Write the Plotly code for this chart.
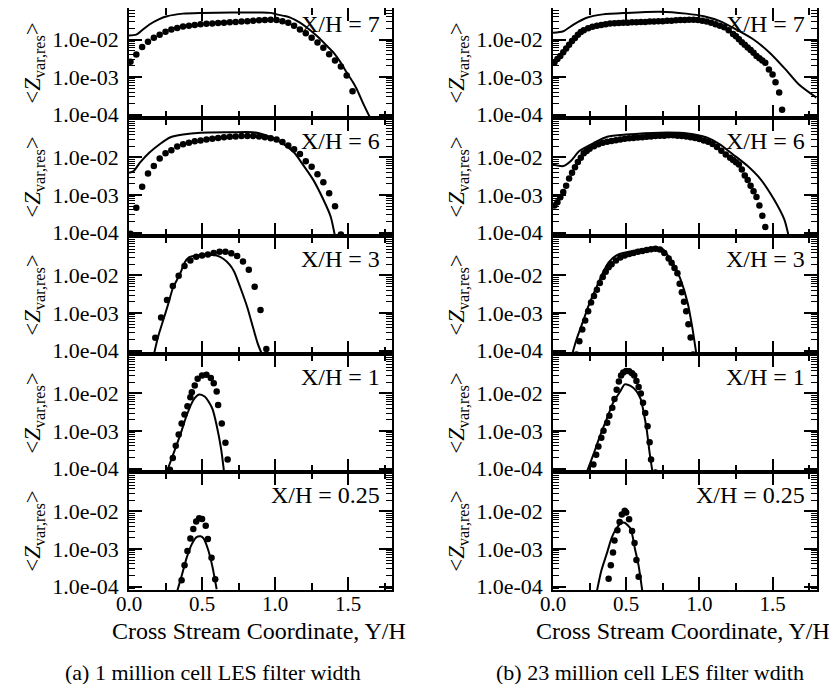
import plotly.graph_objects as go

# The page body keeps an 8 px margin at the top-left; the figure is shifted to compensate
OFF = 8
FW, FH = 837 - OFF, 684 - OFF
FONT = "Liberation Serif"

panel_labels = ["X/H = 7", "X/H = 6", "X/H = 3", "X/H = 1", "X/H = 0.25"]
y_tick_vals = [1e-4, 1e-3, 1e-2]
y_tick_text = ["1.0e-04", "1.0e-03", "1.0e-02"]
x_title = "Cross Stream Coordinate, Y/H"
y_title = "&lt;<i>Z</i><sub>var,res</sub>&gt;"
captions = ["(a) 1 million cell LES filter width", "(b) 23 million cell LES filter wdith"]

# ---------------- left column: 1 million cell ----------------
# X/H = 7
l1_line_x = [0.0, 0.05, 0.10, 0.14, 0.20, 0.26, 0.37, 0.50, 0.70, 0.90, 0.97, 1.01, 1.06, 1.10, 1.17, 1.23,
             1.29, 1.35, 1.40, 1.45, 1.49, 1.53, 1.56, 1.60, 1.65]
l1_line_y = [1.29e-2, 1.35e-2, 1.91e-2, 2.51e-2, 3.39e-2, 4.17e-2, 4.90e-2, 5.13e-2, 5.25e-2, 5.25e-2, 5.13e-2,
             4.68e-2, 4.27e-2, 3.89e-2, 2.82e-2, 1.91e-2, 1.20e-2, 7.08e-3, 4.47e-3, 2.40e-3, 1.32e-3, 7.59e-4,
             4.68e-4, 2.09e-4, 8.3e-5]
l1_dot_x = [0.01, 0.05, 0.09, 0.13, 0.17, 0.21, 0.25, 0.29, 0.33, 0.37, 0.41, 0.45, 0.49, 0.53, 0.57, 0.61,
            0.65, 0.69, 0.73, 0.77, 0.81, 0.85, 0.89, 0.93, 0.97, 1.01, 1.05, 1.09, 1.13, 1.17, 1.21, 1.25,
            1.29, 1.33, 1.37, 1.41, 1.45, 1.49, 1.53]
l1_dot_y = [2.57e-3, 3.98e-3, 6.31e-3, 8.71e-3, 1.12e-2, 1.35e-2, 1.62e-2, 1.86e-2, 2.04e-2, 2.24e-2, 2.34e-2,
            2.45e-2, 2.57e-2, 2.63e-2, 2.69e-2, 2.75e-2, 2.82e-2, 2.88e-2, 2.95e-2, 3.02e-2, 3.09e-2, 3.16e-2,
            3.24e-2, 3.31e-2, 3.39e-2, 3.31e-2, 3.09e-2, 2.82e-2, 2.34e-2, 1.86e-2, 1.48e-2, 1.12e-2, 8.32e-3,
            6.03e-3, 4.07e-3, 2.75e-3, 1.91e-3, 1.10e-3, 4.17e-4]

# X/H = 6
l2_line_x = [0.0, 0.03, 0.075, 0.14, 0.21, 0.28, 0.37, 0.49, 0.70, 0.85, 0.92, 0.99, 1.06, 1.13, 1.19, 1.26,
             1.33, 1.38, 1.41]
l2_line_y = [3.89e-3, 4.27e-3, 7.24e-3, 1.35e-2, 2.24e-2, 3.39e-2, 4.07e-2, 4.57e-2, 4.68e-2, 4.68e-2, 4.07e-2,
             3.16e-2, 2.24e-2, 1.35e-2, 6.46e-3, 2.57e-3, 7.59e-4, 2.69e-4, 7.94e-5]
l2_dot_x = [0.01, 0.05, 0.09, 0.13, 0.17, 0.21, 0.25, 0.29, 0.33, 0.37, 0.41, 0.45, 0.49, 0.53, 0.57, 0.61,
            0.65, 0.69, 0.73, 0.77, 0.81, 0.85, 0.89, 0.93, 0.97, 1.01, 1.05, 1.09, 1.13, 1.17, 1.21, 1.25,
            1.29, 1.33, 1.37, 1.41, 1.45]
l2_dot_y = [9.3e-5, 4.57e-4, 1.66e-3, 3.72e-3, 5.89e-3, 9.33e-3, 1.29e-2, 1.55e-2, 1.95e-2, 2.24e-2, 2.45e-2,
            2.69e-2, 2.82e-2, 3.02e-2, 3.16e-2, 3.31e-2, 3.47e-2, 3.55e-2, 3.63e-2, 3.72e-2, 3.72e-2, 3.72e-2,
            3.63e-2, 3.47e-2, 3.24e-2, 3.02e-2, 2.57e-2, 2.09e-2, 1.66e-2, 1.23e-2, 7.94e-3, 5.62e-3, 3.55e-3,
            2.19e-3, 1.12e-3, 5.01e-4, 8.9e-5]

# X/H = 3
l3_line_x = [0.17, 0.20, 0.235, 0.27, 0.30, 0.35, 0.38, 0.41, 0.46, 0.53, 0.60, 0.65, 0.69, 0.72, 0.76, 0.81,
             0.85, 0.88, 0.91]
l3_line_y = [7.76e-5, 2.40e-4, 6.61e-4, 1.82e-3, 4.57e-3, 1.12e-2, 2.19e-2, 3.02e-2, 3.39e-2, 3.55e-2, 3.39e-2,
             2.69e-2, 1.91e-2, 1.26e-2, 5.01e-3, 1.41e-3, 3.98e-4, 1.58e-4, 7.94e-5]
l3_dot_x = [0.18, 0.22, 0.26, 0.30, 0.34, 0.38, 0.42, 0.46, 0.50, 0.54, 0.58, 0.62, 0.66, 0.70, 0.74, 0.78,
            0.82, 0.86, 0.90, 0.94]
l3_dot_y = [2.19e-4, 7.59e-4, 2.24e-3, 5.25e-3, 9.77e-3, 1.78e-2, 2.51e-2, 3.16e-2, 3.39e-2, 3.63e-2, 3.98e-2,
            4.27e-2, 4.27e-2, 3.89e-2, 3.31e-2, 2.34e-2, 1.41e-2, 5.01e-3, 1.20e-3, 1.10e-4]

# X/H = 1
l4_line_x = [0.26, 0.30, 0.35, 0.395, 0.44, 0.48, 0.52, 0.57, 0.60, 0.63, 0.65]
l4_line_y = [8.51e-5, 2.24e-4, 7.76e-4, 2.63e-3, 6.61e-3, 9.33e-3, 8.13e-3, 3.98e-3, 1.41e-3, 3.39e-4, 8.51e-5]
l4_dot_x = [0.28, 0.30, 0.32, 0.34, 0.36, 0.38, 0.40, 0.42, 0.43, 0.45, 0.47, 0.50, 0.53, 0.56, 0.58, 0.60,
            0.61, 0.635, 0.66, 0.675]
l4_dot_y = [9.33e-5, 1.91e-4, 4.07e-4, 8.13e-4, 1.58e-3, 2.75e-3, 4.57e-3, 7.94e-3, 1.07e-2, 1.62e-2, 2.45e-2,
            3.02e-2, 3.16e-2, 2.57e-2, 1.86e-2, 1.12e-2, 4.90e-3, 1.58e-3, 4.90e-4, 1.74e-4]

# X/H = 0.25
l5_line_x = [0.33, 0.36, 0.395, 0.43, 0.46, 0.49, 0.51, 0.54, 0.57, 0.60]
l5_line_y = [7.59e-5, 1.91e-4, 5.89e-4, 1.35e-3, 2.04e-3, 2.19e-3, 1.91e-3, 1.0e-3, 3.55e-4, 8.51e-5]
l5_dot_x = [0.36, 0.38, 0.40, 0.42, 0.44, 0.46, 0.48, 0.50, 0.525, 0.54, 0.565, 0.59]
l5_dot_y = [1.48e-4, 3.72e-4, 8.91e-4, 1.91e-3, 3.39e-3, 5.37e-3, 6.61e-3, 6.31e-3, 4.17e-3, 1.86e-3, 5.89e-4,
            1.58e-4]

# ---------------- right column: 23 million cell ----------------
# X/H = 7
r1_line_x = [0.0, 0.07, 0.14, 0.23, 0.34, 0.50, 0.73, 0.91, 1.03, 1.14, 1.25, 1.37, 1.48, 1.59, 1.68, 1.80]
r1_line_y = [1.51e-2, 1.66e-2, 2.51e-2, 3.80e-2, 4.68e-2, 5.13e-2, 5.50e-2, 4.90e-2, 4.17e-2, 3.09e-2, 1.86e-2,
             1.0e-2, 4.47e-3, 1.58e-3, 6.31e-4, 2.82e-4]
r1_dot_x = [0.01, 0.03, 0.05, 0.07, 0.09, 0.11, 0.13, 0.15, 0.17, 0.19, 0.21,
            0.24, 0.27, 0.30, 0.33, 0.36, 0.39, 0.42, 0.45, 0.48, 0.51, 0.54, 0.57, 0.60, 0.63, 0.66, 0.69,
            0.72, 0.75, 0.78, 0.81, 0.84, 0.87, 0.90, 0.93, 0.96, 0.99, 1.02, 1.05, 1.08, 1.11, 1.14, 1.17,
            1.20, 1.23,
            1.25, 1.27, 1.29, 1.31, 1.33, 1.35, 1.37, 1.39, 1.41, 1.43,
            1.45, 1.475, 1.50, 1.52, 1.545, 1.565]
r1_dot_y = [2.45e-3, 3.02e-3, 3.63e-3, 4.57e-3, 5.75e-3, 7.24e-3, 9.12e-3, 1.10e-2, 1.35e-2, 1.58e-2, 1.78e-2,
            2.00e-2, 2.19e-2, 2.34e-2, 2.45e-2, 2.57e-2, 2.69e-2, 2.72e-2, 2.75e-2, 2.82e-2, 2.82e-2, 2.88e-2,
            2.88e-2, 2.95e-2, 2.95e-2, 3.02e-2, 3.02e-2, 3.09e-2, 3.09e-2, 3.16e-2, 3.16e-2, 3.24e-2, 3.31e-2,
            3.31e-2, 3.39e-2, 3.39e-2, 3.31e-2, 3.16e-2, 3.02e-2, 2.82e-2, 2.57e-2, 2.34e-2, 2.14e-2, 1.78e-2,
            1.41e-2,
            1.23e-2, 1.02e-2, 8.51e-3, 7.24e-3, 6.17e-3, 5.25e-3, 4.47e-3, 3.63e-3, 3.16e-3, 2.75e-3,
            2.40e-3, 1.58e-3, 1.17e-3, 7.24e-4, 3.89e-4, 1.35e-4]

# X/H = 6
r2_line_x = [0.0, 0.07, 0.12, 0.18, 0.28, 0.37, 0.50, 0.73, 0.92, 1.05, 1.14, 1.23, 1.33, 1.42, 1.51, 1.58, 1.61]
r2_line_y = [6.46e-3, 5.89e-3, 7.94e-3, 1.48e-2, 2.45e-2, 3.55e-2, 4.07e-2, 4.57e-2, 4.37e-2, 3.39e-2, 2.24e-2,
             1.20e-2, 5.89e-3, 2.57e-3, 7.59e-4, 2.24e-4, 7.94e-5]
r2_dot_x = [0.01, 0.03, 0.05, 0.07, 0.09, 0.11, 0.13, 0.15, 0.17, 0.19, 0.21, 0.23, 0.25,
            0.28, 0.31, 0.34, 0.37, 0.40, 0.43, 0.46, 0.49, 0.52, 0.55, 0.58, 0.61, 0.64, 0.67, 0.70, 0.73,
            0.76, 0.79, 0.82, 0.85, 0.88, 0.91, 0.94, 0.97, 1.00, 1.03, 1.06, 1.09, 1.12, 1.15, 1.18, 1.21,
            1.23, 1.25, 1.27, 1.29, 1.31, 1.33, 1.35, 1.37, 1.39, 1.41, 1.43, 1.45]
r2_dot_y = [5.25e-4, 6.46e-4, 8.71e-4, 1.20e-3, 1.78e-3, 2.75e-3, 3.89e-3, 5.50e-3, 7.59e-3, 9.77e-3, 1.29e-2,
            1.48e-2, 1.70e-2,
            2.00e-2, 2.24e-2, 2.45e-2, 2.63e-2, 2.75e-2, 2.88e-2, 3.02e-2, 3.16e-2, 3.24e-2, 3.31e-2, 3.39e-2,
            3.47e-2, 3.55e-2, 3.63e-2, 3.72e-2, 3.80e-2, 3.80e-2, 3.89e-2, 3.89e-2, 3.80e-2, 3.72e-2, 3.63e-2,
            3.47e-2, 3.31e-2, 3.09e-2, 2.82e-2, 2.63e-2, 2.29e-2, 1.91e-2, 1.51e-2, 1.20e-2, 9.77e-3,
            8.51e-3, 7.41e-3, 6.46e-3, 4.79e-3, 3.31e-3, 2.51e-3, 1.78e-3, 1.26e-3, 8.91e-4, 5.25e-4, 2.82e-4,
            1.41e-4]

# X/H = 3
r3_line_x = [0.13, 0.16, 0.21, 0.25, 0.30, 0.34, 0.38, 0.44, 0.57, 0.69, 0.75, 0.79, 0.83, 0.87, 0.92, 0.95, 0.98]
r3_line_y = [7.76e-5, 1.95e-4, 6.76e-4, 1.86e-3, 5.13e-3, 1.17e-2, 2.24e-2, 3.55e-2, 4.68e-2, 5.50e-2, 5.01e-2,
             3.16e-2, 1.78e-2, 8.13e-3, 1.86e-3, 4.47e-4, 7.76e-5]
r3_dot_x = [0.16, 0.18, 0.20, 0.22, 0.24, 0.26, 0.28, 0.30, 0.32, 0.34, 0.36, 0.38, 0.40, 0.43, 0.46, 0.49,
            0.52, 0.55, 0.58, 0.61, 0.64, 0.67, 0.70, 0.73, 0.76, 0.79, 0.81, 0.83, 0.85, 0.865, 0.88, 0.895,
            0.91, 0.925, 0.94, 0.957]
r3_dot_y = [7.94e-5, 1.78e-4, 3.63e-4, 6.31e-4, 1.12e-3, 1.91e-3, 2.82e-3, 4.17e-3, 6.31e-3, 9.12e-3, 1.26e-2,
            1.66e-2, 2.00e-2, 2.51e-2, 3.02e-2, 3.39e-2, 3.72e-2, 3.98e-2, 4.27e-2, 4.47e-2, 4.79e-2, 5.01e-2,
            5.13e-2, 4.90e-2, 3.98e-2, 2.82e-2, 2.19e-2, 1.58e-2, 1.15e-2, 6.03e-3, 3.55e-3, 2.00e-3, 1.12e-3,
            5.01e-4, 2.24e-4, 7.94e-5]

# X/H = 1
r4_line_x = [0.23, 0.28, 0.32, 0.37, 0.41, 0.46, 0.49, 0.53, 0.57, 0.60, 0.62, 0.64, 0.66, 0.68]
r4_line_y = [7.94e-5, 2.63e-4, 7.24e-4, 2.24e-3, 5.62e-3, 1.15e-2, 1.74e-2, 1.58e-2, 1.15e-2, 6.92e-3, 3.02e-3,
             1.10e-3, 2.63e-4, 7.94e-5]
r4_dot_x = [0.276, 0.295, 0.31, 0.33, 0.345, 0.37, 0.385, 0.405, 0.42, 0.435, 0.45, 0.465, 0.48, 0.50, 0.52,
            0.54, 0.555, 0.57, 0.585, 0.60, 0.615, 0.63, 0.646, 0.66, 0.67, 0.70]
r4_dot_y = [1.29e-4, 2.34e-4, 3.89e-4, 6.61e-4, 1.02e-3, 1.66e-3, 2.57e-3, 4.17e-3, 7.08e-3, 1.26e-2, 2.09e-2,
            3.02e-2, 3.63e-2, 3.98e-2, 3.89e-2, 3.47e-2, 3.02e-2, 2.14e-2, 1.48e-2, 1.0e-2, 5.62e-3, 3.02e-3,
            1.35e-3, 5.01e-4, 1.74e-4, 7.94e-5]

# X/H = 0.25
r5_line_x = [0.30, 0.33, 0.37, 0.40, 0.435, 0.47, 0.49, 0.53, 0.56, 0.585, 0.61]
r5_line_y = [7.59e-5, 2.63e-4, 8.13e-4, 1.95e-3, 3.63e-3, 5.01e-3, 5.01e-3, 3.47e-3, 1.0e-3, 3.55e-4, 7.59e-5]
r5_dot_x = [0.38, 0.395, 0.41, 0.42, 0.44, 0.455, 0.47, 0.49, 0.50, 0.52, 0.54, 0.557, 0.57, 0.585]
r5_dot_y = [1.62e-4, 3.72e-4, 8.13e-4, 1.70e-3, 3.16e-3, 5.25e-3, 8.32e-3, 1.05e-2, 9.33e-3, 6.17e-3, 3.02e-3,
            1.45e-3, 5.13e-4, 1.82e-4]

panels = {
    (1, 1): (l1_line_x, l1_line_y, l1_dot_x, l1_dot_y),
    (2, 1): (l2_line_x, l2_line_y, l2_dot_x, l2_dot_y),
    (3, 1): (l3_line_x, l3_line_y, l3_dot_x, l3_dot_y),
    (4, 1): (l4_line_x, l4_line_y, l4_dot_x, l4_dot_y),
    (5, 1): (l5_line_x, l5_line_y, l5_dot_x, l5_dot_y),
    (1, 2): (r1_line_x, r1_line_y, r1_dot_x, r1_dot_y),
    (2, 2): (r2_line_x, r2_line_y, r2_dot_x, r2_dot_y),
    (3, 2): (r3_line_x, r3_line_y, r3_dot_x, r3_dot_y),
    (4, 2): (r4_line_x, r4_line_y, r4_dot_x, r4_dot_y),
    (5, 2): (r5_line_x, r5_line_y, r5_dot_x, r5_dot_y),
}

# panel placement, in window pixels
col_px = {1: (129, 392), 2: (553, 816.5)}
row_px = {1: (8, 118), 2: (118, 236), 3: (236, 354), 4: (354, 472), 5: (472, 590)}
label_px = {1: 24, 2: 141, 3: 259, 4: 377, 5: 495}


def fx(s):
    return min(max((s - OFF) / FW, 0.0), 1.0)


def fy(s):
    return min(max(1 - (s - OFF) / FH, 0.0), 1.0)


fig = go.Figure()
layout = {}
annotations = []
for (r, c), (lx, ly, dx, dy) in panels.items():
    k = (r - 1) * 2 + c
    xa = "x" if k == 1 else f"x{k}"
    ya = "y" if k == 1 else f"y{k}"
    fig.add_trace(go.Scatter(x=dx, y=dy, mode="markers", xaxis=xa, yaxis=ya,
                             marker=dict(color="black", size=6.5, line=dict(width=0)),
                             hoverinfo="skip", showlegend=False))
    fig.add_trace(go.Scatter(x=lx, y=ly, mode="lines", xaxis=xa, yaxis=ya,
                             line=dict(color="black", width=2, shape="spline", smoothing=0.7),
                             hoverinfo="skip", showlegend=False))
    x0, x1 = col_px[c]
    y0, y1 = row_px[r]
    yrange = [-4.09, -1.16] if r == 1 else [-4.09, -0.95]
    xkey = "xaxis" if k == 1 else f"xaxis{k}"
    ykey = "yaxis" if k == 1 else f"yaxis{k}"
    layout[xkey] = dict(domain=[fx(x0), fx(x1)], anchor=ya, range=[0, 1.8], automargin=False,
                        tick0=0, dtick=0.5, tickformat=".1f",
                        ticks="inside", ticklen=13, tickwidth=1.5, tickcolor="black",
                        minor=dict(tick0=0, dtick=0.25, ticks="inside", ticklen=7, tickwidth=1.5,
                                   tickcolor="black", showgrid=False),
                        showline=True, linecolor="black", linewidth=1.5, mirror="allticks",
                        showgrid=False, zeroline=False, showticklabels=(r == 5),
                        tickfont=dict(family=FONT, size=21, color="black"), ticklabelstandoff=-6)
    layout[ykey] = dict(domain=[fy(y1), fy(y0)], anchor=xa, type="log", range=yrange,
                        automargin=False,
                        tickmode="array", tickvals=y_tick_vals, ticktext=y_tick_text,
                        ticks="inside", ticklen=13, tickwidth=1.5, tickcolor="black",
                        minor=dict(dtick="D1", ticks="inside", ticklen=6, tickwidth=1,
                                   tickcolor="black", showgrid=False),
                        showline=True, linecolor="black", linewidth=1.5, mirror="allticks",
                        showgrid=False, zeroline=False,
                        tickfont=dict(family=FONT, size=22, color="black"), ticklabelstandoff=4,
                        title=dict(text=y_title, font=dict(family=FONT, size=23, color="black"),
                                   standoff=5))
    annotations.append(dict(text=panel_labels[r - 1], xref="paper", yref="paper",
                            x=fx(x1 - 10), y=fy(label_px[r]), xanchor="right", yanchor="middle",
                            showarrow=False, font=dict(family=FONT, size=24, color="black")))

# x-axis titles below the bottom panels
for cx in (259, 683):
    annotations.append(dict(text=x_title, xref="paper", yref="paper", x=fx(cx), y=fy(631),
                            xanchor="center", yanchor="middle", showarrow=False,
                            font=dict(family=FONT, size=24, color="black")))

for cx, cap in zip((213, 650), captions):
    annotations.append(dict(text=cap, xref="paper", yref="paper", x=fx(cx), y=fy(672),
                            xanchor="center", yanchor="middle", showarrow=False,
                            font=dict(family=FONT, size=22, color="black")))

fig.update_layout(width=FW, height=FH, margin=dict(l=0, r=0, t=0, b=0, autoexpand=False),
                  paper_bgcolor="white", plot_bgcolor="white", showlegend=False,
                  annotations=annotations, **layout)
fig.write_html("out.html")
